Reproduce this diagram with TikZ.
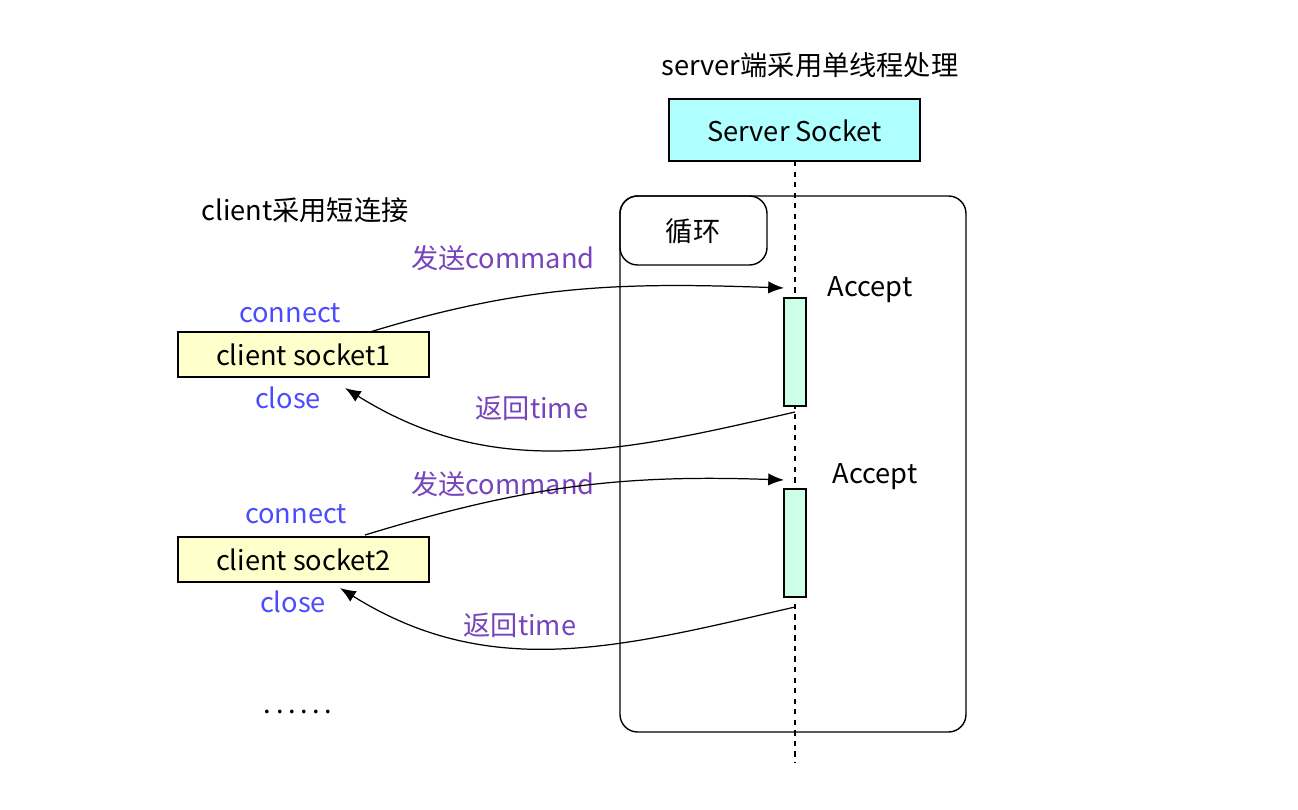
\documentclass[tikz,border=0pt]{standalone}
\usepackage{fontspec}
\setmainfont{Noto Sans CJK SC}
\usetikzlibrary{arrows.meta}
\begin{document}
\begin{tikzpicture}[x=0.02cm,y=-0.02cm,
  txt/.style={font=\fontsize{15.5}{18}\selectfont,inner sep=0pt},
  blue/.style={txt,text=blue!70!white},
  purp/.style={txt,text={rgb,255:red,119;green,68;blue,187}},
  box/.style={draw,line width=0.8pt,inner sep=0pt},
  conn/.style={-{Latex[length=9pt,width=7pt]},line width=0.7pt}]
\useasboundingbox (0,0) rectangle (1298,810);
\node[txt] (title) at (810,65) {server端采用单线程处理};
\draw[box,fill={rgb,255:red,175;green,255;blue,255}] (669,99) rectangle (920,161);
\node[txt] (sstext) at (794.5,131) {Server Socket};
\draw[box,rounded corners=10pt] (620,196) rectangle (966,732);
\draw[box,rounded corners=10pt] (620,196) rectangle (767,265);
\node[txt] (loop) at (693,231) {循环};
\coordinate (lt) at (795,161);
\coordinate (lb) at (795,762);
\draw[dashed,line width=0.8pt] (lt) -- (lb);
\draw[box,fill={rgb,255:red,204;green,255;blue,230}] (784,298) rectangle (806,406);
\draw[box,fill={rgb,255:red,204;green,255;blue,230}] (784,489) rectangle (806,597);
\node[txt] (acc1) at (870,290) {Accept};
\node[txt] (acc2) at (875,477) {Accept};
\node[txt] (cl) at (305,210) {client采用短连接};
\draw[box,fill={rgb,255:red,255;green,255;blue,204}] (178,332) rectangle (429,377);
\node[txt] (c1) at (303.5,355) {client socket1};
\draw[box,fill={rgb,255:red,255;green,255;blue,204}] (178,537) rectangle (429,582);
\node[txt] (c2) at (303.5,560) {client socket2};
\node[blue] (con1) at (290,313) {connect};
\node[blue] (clo1) at (288,398) {close};
\node[blue] (con2) at (296,514) {connect};
\node[blue] (clo2) at (293,602) {close};
\node[purp] (s1) at (503,258) {发送command};
\node[purp] (r1) at (532,408) {返回time};
\node[purp] (s2) at (503,484) {发送command};
\node[purp] (r2) at (520,625) {返回time};
\coordinate (a1) at (370,332); \coordinate (b1) at (784,288);
\coordinate (a2) at (795,412); \coordinate (b2) at (345,388);
\coordinate (a3) at (365,535); \coordinate (b3) at (784,480);
\coordinate (a4) at (795,607); \coordinate (b4) at (340,588);
\draw[conn] (a1) to[out=17,in=178] (b1);
\draw[conn] (a2) to[out=193,in=-32] (b2);
\draw[conn] (a3) to[out=17,in=178] (b3);
\draw[conn] (a4) to[out=193,in=-32] (b4);
\node[txt] (dots) at (298,712) {.\,.\,.\,.\,.\,.};
\end{tikzpicture}
\end{document}
